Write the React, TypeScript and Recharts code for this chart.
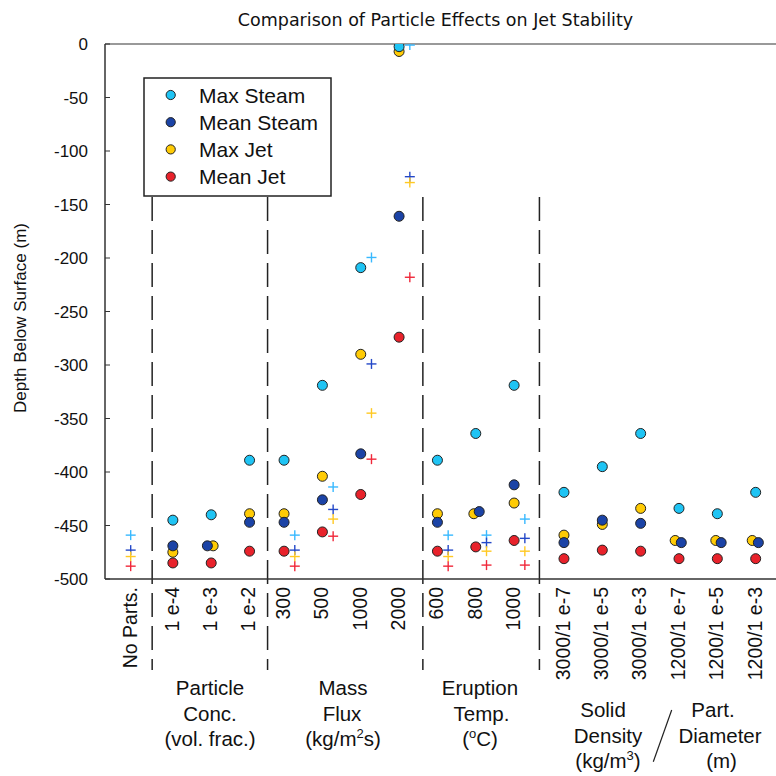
import React from 'react';
import { ScatterChart, Scatter, XAxis, YAxis, ReferenceLine } from 'recharts';

// categories along the bottom, and where each one sits on the numeric x axis
const CATEGORIES = [
  'No Parts.', '1 e-4', '1 e-3', '1 e-2', '300', '500', '1000', '2000',
  '600', '800', '1000', '3000/1 e-7', '3000/1 e-5', '3000/1 e-3',
  '1200/1 e-7', '1200/1 e-5', '1200/1 e-3',
];
const SLOTS = [1, 2.1, 3.1, 4.1, 5, 6, 7, 8, 9, 10, 11, 12.3, 13.3, 14.3, 15.3, 16.3, 17.3];

// circles (depth below surface, m)
const MAX_STEAM = [null, -445, -440, -389, -389, -319, -209, -2.5, -389, -364, -319, -419, -395, -364, -434, -439, -419];
const MEAN_STEAM = [null, -469, -469, -447, -447, -426, -383, -161, -447, -437, -412, -466, -445, -448, -466, -466, -466];
const MAX_JET = [null, -475, -469, -439, -439, -404, -290, -7, -439, -439, -429, -459, -449, -434, -464, -464, -464];
const MEAN_JET = [null, -485, -485, -474, -474, -456, -421, -274, -474, -470, -464, -481, -473, -474, -481, -481, -481];

// crosses
const MAX_STEAM_PLUS = [-459, null, null, null, -459, -414, -199.5, -1, -459, -459, -444, null, null, null, null, null, null];
const MEAN_STEAM_PLUS = [-473, null, null, null, -473, -435, -299, -124, -473, -466, -462, null, null, null, null, null, null];
const MAX_JET_PLUS = [-479, null, null, null, -479, -444, -345, -129.5, -479, -474, -474, null, null, null, null, null, null];
const MEAN_JET_PLUS = [-488, null, null, null, -488, -460, -388, -218, -488, -487, -487, null, null, null, null, null, null];

// small side-by-side shifts where two circles overlap
const MEAN_STEAM_NUDGE = [0, 0, -0.1, 0, 0, 0, 0, 0, 0, 0.09, 0, 0, 0, 0, 0.06, 0.1, 0.07];
const MAX_JET_NUDGE = [0, 0, 0.05, 0, 0, 0, 0, 0, 0, -0.05, 0, 0, 0, 0, -0.1, -0.04, -0.09];
const PLUS_SHIFT = 0.28;

const SEPARATORS = [1.56, 4.57, 8.62, 11.66];
const Y_TICKS = [-500, -450, -400, -350, -300, -250, -200, -150, -100, -50, 0];

const FONT = '"Liberation Sans", Arial, Helvetica, sans-serif';

const COLORS = {
  maxSteam: '#1fc4f4',
  meanSteam: '#1b43a6',
  maxJet: '#ffcb05',
  meanJet: '#e8222b',
};
const PLUS_COLORS = {
  maxSteam: '#38b9ff',
  meanSteam: '#2448c8',
  maxJet: '#ffc923',
  meanJet: '#f0283a',
};

const circlePoints = (vals: (number | null)[], nudge?: number[]) =>
  vals.flatMap((v, i) => (v == null ? [] : [{ x: SLOTS[i] + (nudge ? nudge[i] : 0), y: v }]));

const plusPoints = (vals: (number | null)[]) =>
  vals.flatMap((v, i) => (v == null ? [] : [{ x: SLOTS[i] + (MAX_STEAM[i] == null ? 0 : PLUS_SHIFT), y: v }]));

const dot = (color: string) => (props: any) => (
  <circle cx={props.cx} cy={props.cy} r={5} fill={color} stroke="#222" strokeWidth={1} />
);

const plus = (color: string) => (props: any) => (
  <g stroke={color} strokeWidth={1.4}>
    <line x1={props.cx - 5} y1={props.cy} x2={props.cx + 5} y2={props.cy} />
    <line x1={props.cx} y1={props.cy - 5} x2={props.cx} y2={props.cy + 5} />
  </g>
);

const CategoryTick = ({ x, y, index }: any) => (
  <text
    x={x}
    y={y}
    transform={`rotate(-90, ${x}, ${y})`}
    textAnchor="end"
    dy="0.3em"
    fontSize={19.5}
    fontFamily={FONT}
    fill="#111"
  >
    {CATEGORIES[index]}
  </text>
);

const LEGEND = [
  { label: 'Max Steam', color: COLORS.maxSteam },
  { label: 'Mean Steam', color: COLORS.meanSteam },
  { label: 'Max Jet', color: COLORS.maxJet },
  { label: 'Mean Jet', color: COLORS.meanJet },
];

const GroupLabel = ({ x, lines, y0 }: { x: number[]; lines: React.ReactNode[]; y0: number }) => (
  <>
    {lines.map((l, i) => (
      <text key={i} x={x[i]} y={y0 + i * 25.5} textAnchor="middle" fontSize={20.5} fontFamily={FONT} fill="#111">
        {l}
      </text>
    ))}
  </>
);

const sup = (s: string) => (
  <tspan fontSize={13} dy={-8}>{s}</tspan>
);

const Overlay = () => (
  <svg width={776} height={776} style={{ position: 'absolute', left: 0, top: 0, pointerEvents: 'none' }}>
    <text x={435.5} y={26} textAnchor="middle" fontSize={17.5} fontFamily='"DejaVu Sans", sans-serif' fill="#111">
      Comparison of Particle Effects on Jet Stability
    </text>
    <text
      x={26}
      y={318}
      transform="rotate(-90, 26, 318)"
      textAnchor="middle"
      fontSize={17}
      fontFamily={FONT}
      fill="#111"
    >
      Depth Below Surface (m)
    </text>

    <rect x={144} y={78} width={187} height={118} fill="#fff" stroke="#222" strokeWidth={1.5} />
    {LEGEND.map((item, i) => {
      const cy = 95 + i * 27.2;
      return (
        <g key={item.label}>
          <circle cx={170.7} cy={cy} r={4.6} fill={item.color} stroke="#222" strokeWidth={1} />
          <text x={199} y={cy + 7.5} fontSize={21} fontFamily={FONT} fill="#111">
            {item.label}
          </text>
        </g>
      );
    })}

    <GroupLabel x={[210, 210, 210]} y0={695} lines={['Particle', 'Conc.', '(vol. frac.)']} />
    <GroupLabel
      x={[343, 342, 343]}
      y0={695}
      lines={['Mass', 'Flux', <>(kg/m{sup('2')}<tspan dy={8}>s)</tspan></>]}
    />
    <GroupLabel
      x={[480, 481.5, 480]}
      y0={695}
      lines={['Eruption', 'Temp.', <>({sup('o')}<tspan dy={8}>C)</tspan></>]}
    />
    <GroupLabel
      x={[603, 608, 608]}
      y0={717}
      lines={['Solid', 'Density', <>(kg/m{sup('3')}<tspan dy={8}>)</tspan></>]}
    />
    <GroupLabel x={[713, 720, 721.5]} y0={717} lines={['Part.', 'Diameter', '(m)']} />
    <line x1={671.7} y1={710} x2={653.3} y2={761.7} stroke="#222" strokeWidth={1.2} />
  </svg>
);

export default function App() {
  return (
    <div style={{ position: 'absolute', left: 0, top: 0, width: 776, height: 776, background: '#fff' }}>
      <ScatterChart width={776} height={776} margin={{ top: 44, right: 0, bottom: 0, left: 0 }}>
        <XAxis
          type="number"
          dataKey="x"
          domain={[0.33, 17.83]}
          allowDataOverflow
          ticks={SLOTS}
          interval={0}
          tick={<CategoryTick />}
          tickLine={false}
          height={197}
          axisLine={{ stroke: '#333', strokeWidth: 1.5 }}
        />
        <YAxis
          type="number"
          dataKey="y"
          domain={[-500, 0]}
          allowDataOverflow
          ticks={Y_TICKS}
          interval={0}
          width={105}
          tickSize={-5}
          tickMargin={22}
          tickLine={{ stroke: '#333' }}
          axisLine={{ stroke: '#333', strokeWidth: 1.5 }}
          tick={{ fontSize: 17, fontFamily: FONT, fill: '#111' }}
        />
        <ReferenceLine y={0} stroke="#777" strokeWidth={1.5} />
        {SEPARATORS.map((sx) => (
          <ReferenceLine
            key={sx}
            segment={[{ x: sx, y: -143 }, { x: sx, y: -585 }]}
            stroke="#222"
            strokeWidth={1.5}
            strokeDasharray="24 9"
            ifOverflow="visible"
          />
        ))}

        <Scatter name="Max Steam model" data={plusPoints(MAX_STEAM_PLUS)} shape={plus(PLUS_COLORS.maxSteam)} isAnimationActive={false} />
        <Scatter name="Mean Steam model" data={plusPoints(MEAN_STEAM_PLUS)} shape={plus(PLUS_COLORS.meanSteam)} isAnimationActive={false} />
        <Scatter name="Max Jet model" data={plusPoints(MAX_JET_PLUS)} shape={plus(PLUS_COLORS.maxJet)} isAnimationActive={false} />
        <Scatter name="Mean Jet model" data={plusPoints(MEAN_JET_PLUS)} shape={plus(PLUS_COLORS.meanJet)} isAnimationActive={false} />

        <Scatter name="Max Jet" data={circlePoints(MAX_JET, MAX_JET_NUDGE)} shape={dot(COLORS.maxJet)} isAnimationActive={false} />
        <Scatter name="Max Steam" data={circlePoints(MAX_STEAM)} shape={dot(COLORS.maxSteam)} isAnimationActive={false} />
        <Scatter name="Mean Steam" data={circlePoints(MEAN_STEAM, MEAN_STEAM_NUDGE)} shape={dot(COLORS.meanSteam)} isAnimationActive={false} />
        <Scatter name="Mean Jet" data={circlePoints(MEAN_JET)} shape={dot(COLORS.meanJet)} isAnimationActive={false} />
      </ScatterChart>
      <Overlay />
    </div>
  );
}
